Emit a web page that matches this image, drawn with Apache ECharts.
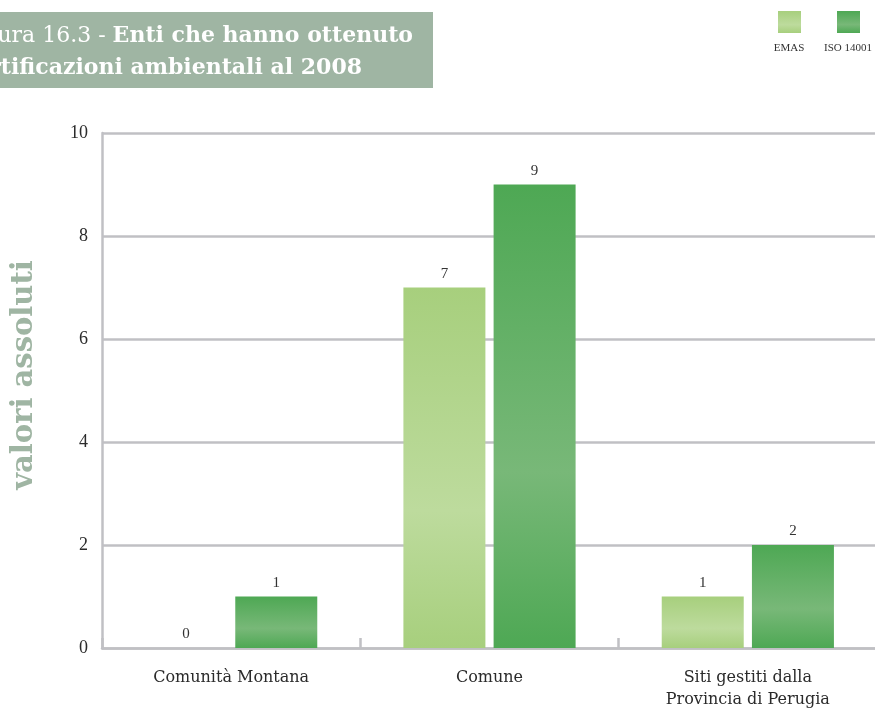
<!DOCTYPE html>
<html>
<head>
<meta charset="utf-8">
<script src="https://cdn.jsdelivr.net/npm/echarts@6/dist/echarts.min.js"></script>
<style>
  html, body { margin: 0; padding: 0; background: #fff; }
  #chart { width: 875px; height: 710px; }
</style>
</head>
<body>
<div id="chart"></div>
<script>
// Entities with environmental certifications, 2008 (absolute values)
const categories = ['Comunità Montana', 'Comune', 'Siti gestiti dalla\nProvincia di Perugia'];
const seriesNames = ['Emas', 'Iso 14001'];
const emasValues = [0, 7, 1];
const isoValues = [1, 9, 2];
const yTicks = [0, 2, 4, 6, 8, 10];

const titleLine1 = 'Figura 16.3 - ';
const titleLine1Bold = 'Enti che hanno ottenuto';
const titleLine2 = 'certificazioni ambientali al 2008';
const axisTitle = 'valori assoluti';

const serif = '"Liberation Serif", "DejaVu Serif", serif';
const slab = '"DejaVu Serif", serif';

function barGradient(edge, mid) {
  return new echarts.graphic.LinearGradient(0, 0, 0, 1, [
    { offset: 0, color: edge },
    { offset: 0.62, color: mid },
    { offset: 1, color: edge }
  ]);
}
const emasFill = barGradient('#a7cf7d', '#bddb9d');
const isoFill = barGradient('#4ea854', '#78b878');

const labelStyle = {
  show: true,
  position: 'top',
  distance: 6,
  color: '#333',
  fontFamily: serif,
  fontSize: 15
};

const chart = echarts.init(document.getElementById('chart'), null, { renderer: 'canvas' });

chart.setOption({
  animation: false,
  backgroundColor: '#ffffff',
  grid: { left: 102, right: -2, top: 133, bottom: 62, containLabel: false, outerBoundsMode: 'none' },
  xAxis: {
    type: 'category',
    data: categories,
    axisLine: { show: true, lineStyle: { color: '#c0c0c4', width: 2.5 } },
    axisTick: { show: true, inside: true, length: 10, alignWithLabel: false, lineStyle: { color: '#c0c0c4', width: 2.5 } },
    axisLabel: {
      color: '#2b2b2b',
      fontFamily: slab,
      fontSize: 16,
      margin: 19,
      lineHeight: 22
    }
  },
  yAxis: {
    type: 'value',
    min: 0,
    max: 10,
    interval: 2,
    axisLine: { show: true, lineStyle: { color: '#c0c0c4', width: 2.5 } },
    axisTick: { show: false },
    splitLine: { show: true, lineStyle: { color: '#c0c0c4', width: 2.5 } },
    axisLabel: {
      color: '#2b2b2b',
      fontFamily: serif,
      fontSize: 18,
      margin: 14,
      formatter: v => (yTicks.includes(v) ? String(v) : '')
    }
  },
  series: [
    {
      name: seriesNames[0],
      type: 'bar',
      data: emasValues,
      barWidth: 82,
      barGap: '10%',
      itemStyle: { color: emasFill },
      label: labelStyle
    },
    {
      name: seriesNames[1],
      type: 'bar',
      data: isoValues,
      barWidth: 82,
      barGap: '10%',
      itemStyle: { color: isoFill },
      label: labelStyle
    }
  ],
  graphic: [
    // title banner
    {
      type: 'rect',
      left: 0, top: 12,
      shape: { width: 433, height: 76 },
      style: { fill: '#9fb5a3' },
      z: 10
    },
    {
      type: 'text',
      x: 413, y: 36,
      style: {
        text: '{r|' + titleLine1 + '}{b|' + titleLine1Bold + '}',
        align: 'right',
        verticalAlign: 'middle',
        rich: {
          r: { fill: '#ffffff', fontFamily: slab, fontSize: 22 },
          b: { fill: '#ffffff', fontFamily: slab, fontSize: 22, fontWeight: 'bold' }
        }
      },
      z: 11
    },
    {
      type: 'text',
      x: 362, y: 68,
      style: {
        text: titleLine2,
        align: 'right',
        verticalAlign: 'middle',
        fill: '#ffffff',
        fontFamily: slab,
        fontSize: 22,
        fontWeight: 'bold'
      },
      z: 11
    },
    // vertical axis title
    {
      type: 'text',
      x: 24, y: 375,
      rotation: Math.PI / 2,
      style: {
        text: axisTitle,
        align: 'center',
        verticalAlign: 'middle',
        fill: '#9fb5a3',
        fontFamily: slab,
        fontWeight: 'bold',
        fontSize: 29
      },
      z: 10
    },
    // legend swatches with captions underneath
    {
      type: 'rect',
      x: 778, y: 11,
      shape: { width: 23, height: 22 },
      style: { fill: barGradient('#a7cf7d', '#bddb9d') },
      z: 10
    },
    {
      type: 'text',
      x: 789, y: 48,
      style: {
        text: seriesNames[0].toUpperCase(),
        align: 'center', verticalAlign: 'middle',
        fill: '#333', fontFamily: serif, fontSize: 11
      },
      z: 10
    },
    {
      type: 'rect',
      x: 837, y: 11,
      shape: { width: 23, height: 22 },
      style: { fill: barGradient('#4ea854', '#78b878') },
      z: 10
    },
    {
      type: 'text',
      x: 848, y: 48,
      style: {
        text: seriesNames[1].toUpperCase(),
        align: 'center', verticalAlign: 'middle',
        fill: '#333', fontFamily: serif, fontSize: 11
      },
      z: 10
    }
  ]
});
</script>
</body>
</html>
